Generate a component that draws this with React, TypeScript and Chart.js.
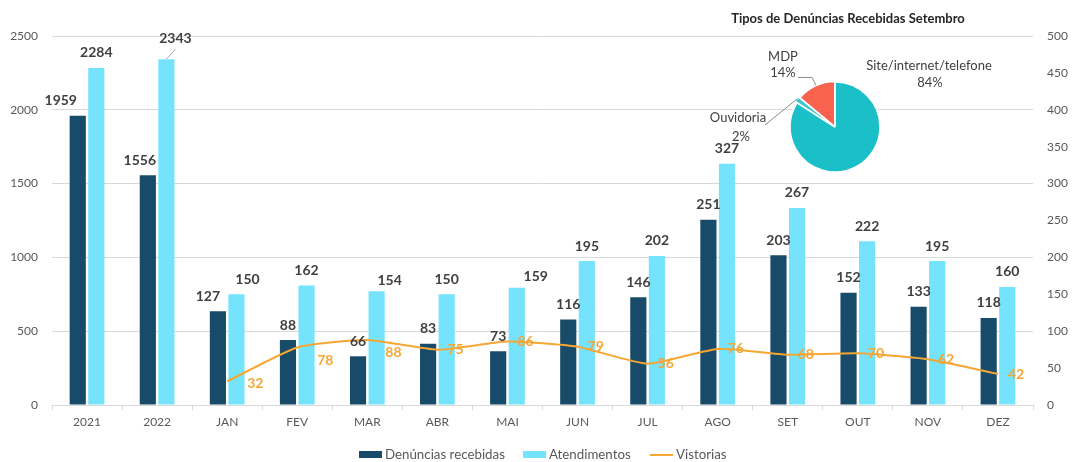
import React, { useEffect, useRef } from 'react';
import { Chart, registerables } from 'chart.js';

Chart.register(...registerables);

// ---------- data ----------
const categories = ['2021', '2022', 'JAN', 'FEV', 'MAR', 'ABR', 'MAI', 'JUN', 'JUL', 'AGO', 'SET', 'OUT', 'NOV', 'DEZ'];
const denunciasAnuais = [1959, 1556, null, null, null, null, null, null, null, null, null, null, null, null];
const atendimentosAnuais = [2284, 2343, null, null, null, null, null, null, null, null, null, null, null, null];
const denunciasMensais = [null, null, 127, 88, 66, 83, 73, 116, 146, 251, 203, 152, 133, 118];
const atendimentosMensais = [null, null, 150, 162, 154, 150, 159, 195, 202, 327, 267, 222, 195, 160];
const vistorias = [null, null, 32, 78, 88, 75, 86, 79, 56, 76, 68, 70, 62, 42];
const leftAxisMax = 2500;
const leftAxisStep = 500;
const rightAxisMax = 500;
const rightAxisStep = 50;
const legendLabels = ['Denúncias recebidas', 'Atendimentos', 'Vistorias'];

const pieTitle = 'Tipos de Denúncias Recebidas Setembro';
const pieLabels = ['Site/internet/telefone', 'Ouvidoria', 'MDP'];
const pieValues = [84, 2, 14];

// ---------- styles ----------
const DARK = '#174B69';
const CYAN = '#76E3FD';
const ORANGE = '#F6A633';
const LABEL = '#404040';
const AXIS_TEXT = '#595959';
const GRID = '#D9D9D9';
const FONT = 'Lato, "Open Sans", sans-serif';
const PIE_LEFT = 665; // page x of the pie canvas
const PIE_W = 340;

// manual nudges of some value labels (dataset-index)
const barLabelNudge: Record<string, [number, number]> = {
  '0-0': [-17, 0],
  '0-1': [-8, 0],
  '1-1': [9, -6],
  '2-2': [-10, 0],
  '3-2': [11, 0],
  '3-4': [13, 4],
  '3-6': [19, 4],
};
const lineLabelNudge: Record<number, [number, number]> = { 2: [10, 2], 3: [10, 13], 4: [8, 12] };

const valueLabels = {
  id: 'valueLabels',
  afterDatasetsDraw(chart: any) {
    const ctx = chart.ctx;
    ctx.save();
    chart.data.datasets.forEach((ds: any, di: number) => {
      const meta = chart.getDatasetMeta(di);
      meta.data.forEach((el: any, i: number) => {
        const v = ds.data[i];
        if (v === null || v === undefined) return;
        if (ds.type === 'line') {
          const n = lineLabelNudge[i] || [0, 0];
          ctx.font = `bold 14px ${FONT}`;
          ctx.fillStyle = ORANGE;
          ctx.textAlign = 'left';
          ctx.textBaseline = 'middle';
          ctx.fillText(String(v), el.x + 10 + n[0], el.y + n[1]);
        } else {
          const n = barLabelNudge[`${di}-${i}`] || [0, 0];
          const lx = el.x + n[0];
          const ly = el.y - 15 + n[1];
          if (di === 1 && i === 1) {
            ctx.strokeStyle = '#A6A6A6';
            ctx.lineWidth = 1;
            ctx.beginPath();
            ctx.moveTo(el.x, el.y);
            ctx.lineTo(el.x + 9, el.y - 10);
            ctx.stroke();
          }
          ctx.font = `bold 14px ${FONT}`;
          ctx.fillStyle = LABEL;
          ctx.textAlign = 'center';
          ctx.textBaseline = 'middle';
          ctx.fillText(String(v), lx, ly);
        }
      });
    });
    ctx.restore();
  },
};

const pieAnnotations = {
  id: 'pieAnnotations',
  afterDraw(chart: any) {
    const ctx = chart.ctx;
    const X = (x: number) => x - PIE_LEFT;
    ctx.save();
    ctx.fillStyle = '#262626';
    ctx.font = `bold 13px ${FONT}`;
    ctx.textAlign = 'center';
    ctx.textBaseline = 'middle';
    ctx.fillText(pieTitle, X(848), 19);

    const total = pieValues.reduce((a, b) => a + b, 0);
    const pct = pieValues.map((v) => `${Math.round((v / total) * 100)}%`);
    ctx.font = `13px ${FONT}`;
    ctx.fillStyle = LABEL;
    // Site/internet/telefone
    ctx.fillText(pieLabels[0], X(929), 66);
    ctx.fillText(pct[0], X(930), 83);
    // Ouvidoria
    ctx.fillText(pieLabels[1], X(738), 118);
    ctx.fillText(pct[1], X(741), 137);
    // MDP
    ctx.fillText(pieLabels[2], X(783), 57);
    ctx.fillText(pct[2], X(783), 73);

    ctx.strokeStyle = '#8C8C8C';
    ctx.lineWidth = 1;
    ctx.beginPath();
    ctx.moveTo(X(798), 77.5);
    ctx.lineTo(X(812), 77.5);
    ctx.lineTo(X(816), 85);
    ctx.stroke();
    ctx.beginPath();
    ctx.moveTo(X(765), 125);
    ctx.lineTo(X(797), 99);
    ctx.stroke();
    ctx.restore();
  },
};

export default function App() {
  const mainRef = useRef<HTMLCanvasElement>(null);
  const pieRef = useRef<HTMLCanvasElement>(null);

  useEffect(() => {
    document.body.style.margin = '0';
    const barCommon = {
      categoryPercentage: 0.53,
      barPercentage: 0.87,
      skipNull: true,
      order: 1,
    };
    const tickFont = { family: FONT, size: 12 };
    const main = new Chart(mainRef.current!, {
      type: 'bar',
      data: {
        labels: categories,
        datasets: [
          { ...barCommon, type: 'bar', label: legendLabels[0], data: denunciasAnuais, backgroundColor: DARK, yAxisID: 'y', stack: 'a' },
          { ...barCommon, type: 'bar', label: legendLabels[1], data: atendimentosAnuais, backgroundColor: CYAN, yAxisID: 'y', stack: 'b' },
          { ...barCommon, type: 'bar', label: legendLabels[0], data: denunciasMensais, backgroundColor: DARK, yAxisID: 'y1', stack: 'c' },
          { ...barCommon, type: 'bar', label: legendLabels[1], data: atendimentosMensais, backgroundColor: CYAN, yAxisID: 'y1', stack: 'd' },
          {
            type: 'line',
            label: legendLabels[2],
            data: vistorias,
            borderColor: ORANGE,
            backgroundColor: ORANGE,
            borderWidth: 2,
            pointRadius: 0,
            tension: 0.18,
            yAxisID: 'y1',
            order: 0,
          } as any,
        ],
      },
      options: {
        responsive: false,
        animation: false,
        devicePixelRatio: 1,
        layout: { padding: { top: 36, bottom: 27, left: 0, right: 0 } },
        plugins: { legend: { display: false }, tooltip: { enabled: false } },
        scales: {
          x: {
            grid: { offset: true, drawOnChartArea: false, drawTicks: true, tickLength: 5, color: GRID },
            border: { display: true, color: GRID },
            ticks: { color: AXIS_TEXT, font: tickFont, padding: 5, maxRotation: 0 },
            afterFit: (s: any) => { s.height = 30; },
          },
          y: {
            position: 'left',
            min: 0,
            max: leftAxisMax,
            grid: { color: GRID, drawTicks: false },
            border: { display: false },
            ticks: { stepSize: leftAxisStep, color: AXIS_TEXT, font: tickFont, padding: 14, callback: (v: any) => String(v) },
            afterFit: (s: any) => { s.width = 52; },
          },
          y1: {
            position: 'right',
            min: 0,
            max: rightAxisMax,
            grid: { drawOnChartArea: false, drawTicks: false },
            border: { display: false },
            ticks: { stepSize: rightAxisStep, color: AXIS_TEXT, font: tickFont, padding: 14, callback: (v: any) => String(v) },
            afterFit: (s: any) => { s.width = 39; },
          },
        },
      } as any,
      plugins: [valueLabels],
    });

    const pie = new Chart(pieRef.current!, {
      type: 'pie',
      data: {
        labels: pieLabels,
        datasets: [
          {
            data: pieValues,
            backgroundColor: ['#1BBFC7', '#3CC8CF', '#F8624E'],
            borderColor: '#FFFFFF',
            borderWidth: 1.5,
            offset: [0, 5, 2],
          },
        ],
      },
      options: {
        responsive: false,
        animation: false,
        devicePixelRatio: 1,
        radius: 45,
        plugins: { legend: { display: false }, tooltip: { enabled: false } },
      } as any,
      plugins: [pieAnnotations],
    });

    return () => {
      main.destroy();
      pie.destroy();
    };
  }, []);

  const legendText: React.CSSProperties = { fontFamily: FONT, fontSize: 13.3, color: AXIS_TEXT, whiteSpace: 'nowrap', lineHeight: '17px' };
  const item = (left: number): React.CSSProperties => ({ position: 'absolute', left, top: 446, height: 17, display: 'flex', alignItems: 'center', gap: 3 });

  return (
    <div style={{ position: 'relative', width: 1072, height: 462, background: '#fff', overflow: 'hidden' }}>
      <canvas ref={mainRef} width={1072} height={462} style={{ position: 'absolute', left: 0, top: 0 }} />
      <canvas ref={pieRef} width={PIE_W} height={254} style={{ position: 'absolute', left: PIE_LEFT, top: 0 }} />
      <div style={item(359)}>
        <span style={{ width: 23, height: 7, background: DARK, display: 'inline-block' }} />
        <span style={legendText}>{legendLabels[0]}</span>
      </div>
      <div style={item(523)}>
        <span style={{ width: 23, height: 7, background: CYAN, display: 'inline-block' }} />
        <span style={legendText}>{legendLabels[1]}</span>
      </div>
      <div style={item(650)}>
        <span style={{ width: 23, height: 2, background: ORANGE, display: 'inline-block' }} />
        <span style={legendText}>{legendLabels[2]}</span>
      </div>
    </div>
  );
}
